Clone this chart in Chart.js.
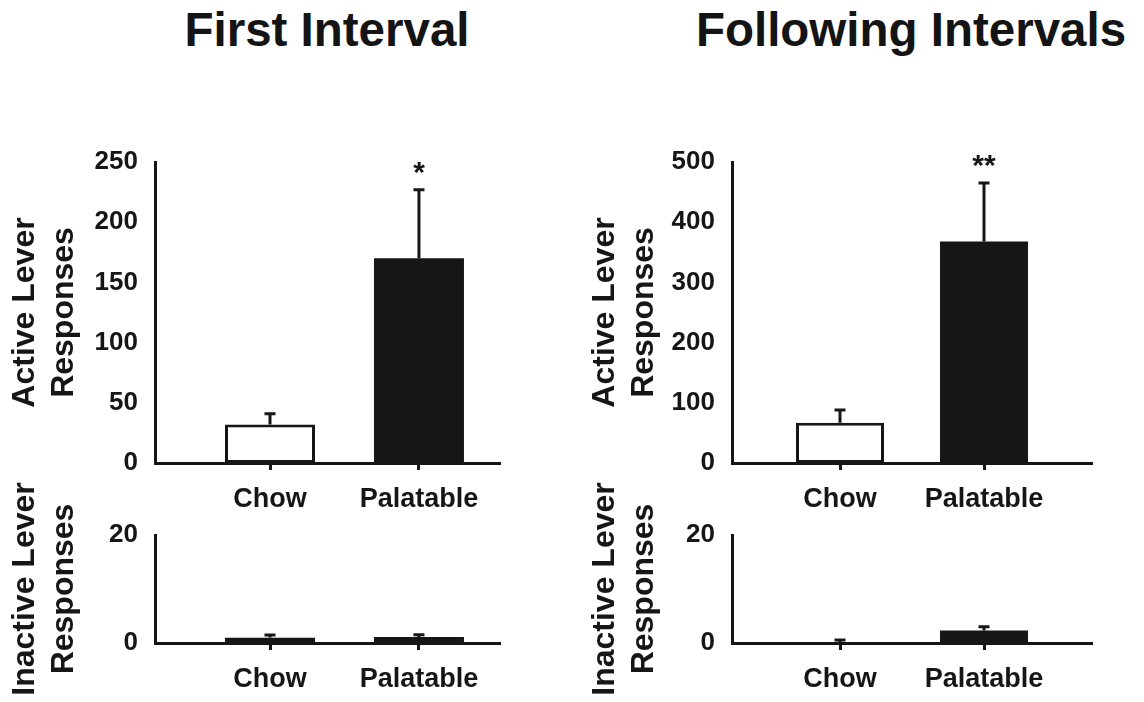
<!DOCTYPE html>
<html>
<head>
<meta charset="utf-8">
<script src="https://cdn.jsdelivr.net/npm/chart.js@4.4.1/dist/chart.umd.min.js"></script>
<style>
    body {
        margin: 0;
        background: #fff;
        width: 1144px;
        height: 702px;
        overflow: hidden;
        position: relative;
        font-family: 'Liberation Sans', Arial, sans-serif;
    }
    canvas {
        position: absolute;
    }
    .title {
        position: absolute;
        top: 2px;
        font-weight: bold;
        font-size: 47.5px;
        color: #141414;
        white-space: nowrap;
        transform: translateX(-50%);
    }
</style>
</head>
<body>
<div class="title" style="left:327px">First Interval</div>
<div class="title" style="left:911px">Following Intervals</div>
<canvas id="firstActive" width="520" height="403" style="left:0;top:120px"></canvas>
<canvas id="followActive" width="530" height="403" style="left:580px;top:120px"></canvas>
<canvas id="firstInactive" width="520" height="236" style="left:0;top:466px"></canvas>
<canvas id="followInactive" width="530" height="236" style="left:580px;top:466px"></canvas>
<script>
// data
var categories = ['Chow', 'Palatable'];

var firstActive = [32, 170];
var firstActiveErr = [9, 57];
var firstInactive = [1.0, 1.1];
var firstInactiveErr = [0.5, 0.45];

var followActive = [67, 368];
var followActiveErr = [21, 97];
var followInactive = [0.05, 2.3];
var followInactiveErr = [0.5, 0.7];

var firstStars = ['', '*'];
var followStars = ['', '**'];

var firstActiveTicks = [0, 50, 100, 150, 200, 250];
var followActiveTicks = [0, 100, 200, 300, 400, 500];
var inactiveTicks = [0, 20];

var ink = '#161616';
var barColors = ['#ffffff', ink];
// the dark bar is one solid block, so only the open bar gets an outline
var barBorders = [3, 0];
var fontFamily = "'Liberation Sans', Arial, sans-serif";

//---error bars + significance stars
var errorBars = {
    id: 'errorBars',
    afterDatasetsDraw: function (chart) {
        var ds = chart.data.datasets[0];
        var meta = chart.getDatasetMeta(0);
        var yScale = chart.scales.y;
        var ctx = chart.ctx;
        ctx.save();
        ctx.strokeStyle = ink;
        ctx.fillStyle = ink;
        ctx.lineWidth = 3;
        meta.data.forEach(function (bar, i) {
            var top = yScale.getPixelForValue(ds.data[i].y + ds.errors[i]);
            ctx.beginPath();
            ctx.moveTo(bar.x, bar.y);
            ctx.lineTo(bar.x, top);
            ctx.moveTo(bar.x - 5.5, top);
            ctx.lineTo(bar.x + 5.5, top);
            ctx.stroke();
            if (ds.stars && ds.stars[i]) {
                ctx.font = 'bold 30px ' + fontFamily;
                ctx.textAlign = 'center';
                ctx.textBaseline = 'alphabetic';
                ctx.fillText(ds.stars[i], bar.x, top - 8);
            }
        });
        ctx.restore();
    }
};

function makeChart(id, cfg) {
    var points = cfg.values.map(function (v, i) {
        return { x: i + 1, y: v };
    });
    var ctx = document.getElementById(id).getContext('2d');
    return new Chart(ctx, {
        type: 'bar',
        data: {
            datasets: [{
                data: points,
                errors: cfg.errors,
                stars: cfg.stars,
                backgroundColor: barColors,
                borderColor: ink,
                borderWidth: barBorders,
                borderSkipped: false,
                inflateAmount: 0,
                barThickness: cfg.barWidth
            }]
        },
        options: {
            responsive: false,
            animation: false,
            layout: {
                padding: { top: cfg.padTop, right: cfg.padRight, left: 0, bottom: 0 }
            },
            plugins: {
                legend: { display: false },
                tooltip: { enabled: false }
            },
            scales: {
                x: {
                    type: 'linear',
                    min: cfg.xMin,
                    max: cfg.xMax,
                    offset: false,
                    grid: {
                        offset: false,
                        drawOnChartArea: false,
                        drawTicks: true,
                        tickLength: 7,
                        tickWidth: 3,
                        color: ink
                    },
                    border: { display: true, color: ink, width: 3 },
                    afterBuildTicks: function (scale) {
                        scale.ticks = categories.map(function (c, i) {
                            return { value: i + 1 };
                        });
                    },
                    afterFit: function (scale) {
                        scale.height = cfg.xHeight;
                    },
                    ticks: {
                        color: ink,
                        padding: 13,
                        maxRotation: 0,
                        font: { family: fontFamily, size: 27, weight: 'bold' },
                        callback: function (v) {
                            return categories[Math.round(v) - 1];
                        }
                    }
                },
                y: {
                    min: cfg.yTicks[0],
                    max: cfg.yTicks[cfg.yTicks.length - 1],
                    grid: { display: false, drawTicks: false },
                    border: { display: true, color: ink, width: 3 },
                    afterBuildTicks: function (scale) {
                        scale.ticks = cfg.yTicks.map(function (t) {
                            return { value: t };
                        });
                    },
                    afterFit: function (scale) {
                        scale.width = cfg.yWidth;
                    },
                    ticks: {
                        color: ink,
                        padding: 17,
                        font: { family: fontFamily, size: 26, weight: 'bold' }
                    },
                    title: {
                        display: true,
                        text: cfg.yTitle,
                        color: ink,
                        padding: { top: 6, bottom: 0 },
                        font: { family: fontFamily, size: 32, weight: 'bold', lineHeight: 1.22 }
                    }
                }
            }
        },
        plugins: [errorBars]
    });
}

makeChart('firstActive', {
    values: firstActive, errors: firstActiveErr, stars: firstStars,
    yTicks: firstActiveTicks, yTitle: ['Active Lever', 'Responses'],
    xMin: 0.228, xMax: 2.544, barWidth: 90,
    padTop: 42, padRight: 20, yWidth: 155, xHeight: 60
});

makeChart('followActive', {
    values: followActive, errors: followActiveErr, stars: followStars,
    yTicks: followActiveTicks, yTitle: ['Active Lever', 'Responses'],
    xMin: 0.25, xMax: 2.75, barWidth: 88,
    padTop: 42, padRight: 18, yWidth: 152, xHeight: 60
});

makeChart('firstInactive', {
    values: firstInactive, errors: firstInactiveErr, stars: null,
    yTicks: inactiveTicks, yTitle: ['Inactive Lever', 'Responses'],
    xMin: 0.228, xMax: 2.544, barWidth: 90,
    padTop: 69, padRight: 20, yWidth: 155, xHeight: 59
});

makeChart('followInactive', {
    values: followInactive, errors: followInactiveErr, stars: null,
    yTicks: inactiveTicks, yTitle: ['Inactive Lever', 'Responses'],
    xMin: 0.25, xMax: 2.75, barWidth: 88,
    padTop: 69, padRight: 18, yWidth: 152, xHeight: 59
});
</script>
</body>
</html>
